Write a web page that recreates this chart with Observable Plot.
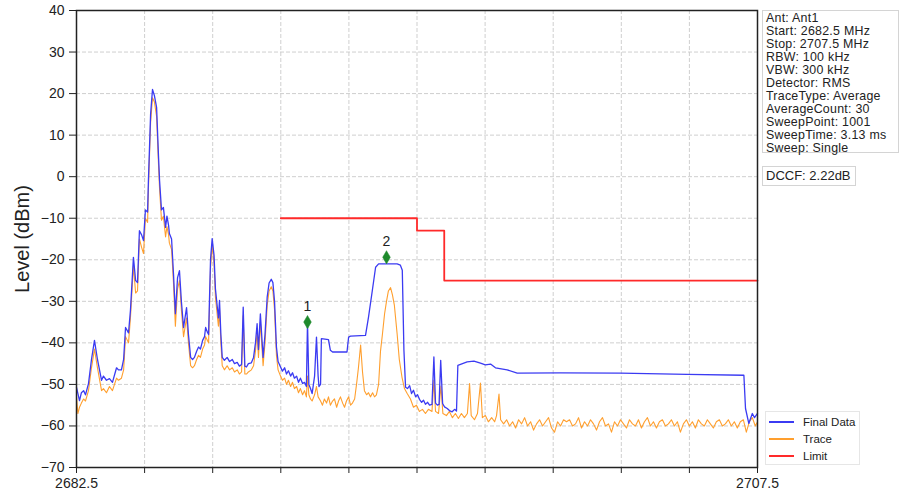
<!DOCTYPE html>
<html><head><meta charset="utf-8">
<script src="https://cdn.jsdelivr.net/npm/d3@7"></script>
<script src="https://cdn.jsdelivr.net/npm/@observablehq/plot@0.6"></script>
<style>
body{margin:0;background:#fff;font-family:"Liberation Sans",Arial,sans-serif;}
#wrap{position:relative;width:899px;height:500px;overflow:hidden;}
#chart svg{display:block;}
.info{position:absolute;left:762px;top:10px;width:137px;height:143px;border:1px solid #d4d4d4;background:#fff;font-size:12.4px;line-height:13px;color:#222;padding:1px 0 0 3px;box-sizing:border-box;white-space:nowrap;letter-spacing:0.25px;}
.info div{height:13px;overflow:visible;}
.dccf{position:absolute;left:762px;top:166px;border:1px solid #d4d4d4;background:#fff;font-size:13px;line-height:16px;color:#222;padding:1px 4px 1px 3px;white-space:nowrap;}
.legend{position:absolute;left:765px;top:411px;width:95px;height:54px;border:1px solid #e6e6e6;background:#fff;font-size:11.5px;color:#222;box-sizing:border-box;}
.legend .row{position:absolute;left:2px;height:14px;line-height:14px;white-space:nowrap;}
.legend .sw{position:absolute;left:0;top:6px;width:25px;height:1.6px;}
.legend .lbl{position:absolute;left:34px;top:0;}
.ylab{position:absolute;left:22px;top:239px;transform:translate(-50%,-50%) rotate(-90deg);font-size:20px;color:#222;white-space:nowrap;}
</style>
</head><body>
<div id="wrap">
<div id="chart"></div>
<div class="ylab">Level (dBm)</div>
<div class="info" id="info"></div>
<div class="dccf" id="dccf"></div>
<div class="legend" id="legend"></div>
</div>
<script>
// x ticks (MHz) and y ticks (dBm)
const xTicks = [2682.5, 2685, 2687.5, 2690, 2692.5, 2695, 2697.5, 2700, 2702.5, 2705, 2707.5];
const xLabelTicks = [2682.5, 2707.5];
const yTicks = [-70, -60, -50, -40, -30, -20, -10, 0, 10, 20, 30, 40];

// Final Data trace [MHz, dBm]
const finalData = [
[2682.50,-50.7],[2682.61,-53.9],[2682.68,-52],[2682.76,-51.5],[2682.83,-52.5],[2682.94,-49.8],[2683.05,-44],[2683.16,-39.4],
[2683.27,-44],[2683.42,-49],[2683.49,-48],[2683.60,-49],[2683.71,-48.6],[2683.82,-49.5],[2683.97,-46],[2684.04,-46.5],
[2684.15,-46.5],[2684.23,-44],[2684.30,-36.3],[2684.41,-37.6],[2684.48,-32.2],[2684.59,-19.4],[2684.67,-25],[2684.74,-25.5],
[2684.81,-13],[2684.89,-14],[2684.96,-15.4],[2685.03,-8],[2685.11,-8.5],[2685.14,-1],[2685.22,15],[2685.29,21],
[2685.36,19.5],[2685.44,16.7],[2685.51,5],[2685.55,-1],[2685.62,-8],[2685.69,-7.4],[2685.77,-12.2],[2685.82,-9.5],
[2685.88,-11.7],[2685.91,-13.7],[2685.99,-15],[2686.06,-23.3],[2686.13,-33],[2686.21,-24.3],[2686.28,-22.6],[2686.35,-30],
[2686.43,-36.3],[2686.54,-31.5],[2686.61,-38],[2686.69,-43.5],[2686.76,-44],[2686.83,-43.5],[2686.91,-42],[2686.98,-41],
[2687.05,-41.5],[2687.13,-39.4],[2687.20,-38.5],[2687.24,-36.3],[2687.31,-37.5],[2687.35,-38],[2687.38,-30],[2687.42,-20],
[2687.48,-14.9],[2687.55,-19],[2687.60,-27],[2687.67,-31.5],[2687.71,-34],[2687.75,-29.8],[2687.80,-38],[2687.85,-43.5],
[2687.93,-44.2],[2688.03,-43.5],[2688.12,-44.5],[2688.22,-44],[2688.30,-45],[2688.40,-44.7],[2688.48,-45.6],[2688.56,-45.2],
[2688.62,-31.4],[2688.68,-45.6],[2688.74,-45.8],[2688.81,-45],[2688.92,-44.8],[2689.00,-43.5],[2689.07,-40],[2689.13,-35.4],
[2689.18,-41.6],[2689.25,-33],[2689.35,-43.5],[2689.42,-38],[2689.50,-29],[2689.57,-25.6],[2689.65,-24.7],[2689.71,-25.5],
[2689.77,-30],[2689.84,-41],[2689.90,-44.5],[2689.99,-45.8],[2690.06,-46.8],[2690.14,-46],[2690.21,-47.5],[2690.28,-46.7],
[2690.36,-48],[2690.43,-47.2],[2690.50,-48.5],[2690.58,-48],[2690.65,-49.5],[2690.72,-48.5],[2690.80,-49.8],[2690.87,-49.5],
[2690.94,-50.5],[2690.98,-35],[2691.03,-50],[2691.09,-51],[2691.15,-52.2],[2691.24,-48],[2691.31,-38.6],[2691.37,-48],
[2691.40,-50.5],[2691.46,-50],[2691.49,-39],[2691.75,-39.2],[2691.82,-41.8],[2691.90,-42.2],[2692.43,-42.2],[2692.49,-38.6],
[2692.56,-38.4],[2693.11,-38.2],[2693.22,-33.8],[2693.36,-27.4],[2693.48,-21.8],[2693.59,-21],[2694.27,-21],[2694.39,-21.3],
[2694.46,-22.5],[2694.52,-41.8],[2694.58,-50.7],[2694.65,-51],[2694.73,-50.3],[2694.80,-52.2],[2694.87,-51.4],[2694.95,-53],
[2695.02,-52.5],[2695.09,-53.6],[2695.17,-54.3],[2695.24,-53.8],[2695.31,-54.8],[2695.39,-54.3],[2695.46,-55],[2695.55,-54.8],
[2695.62,-43.4],[2695.68,-54.5],[2695.75,-55],[2695.81,-54.8],[2695.87,-44.2],[2695.94,-54.6],[2696.01,-55.4],[2696.11,-55.8],
[2696.19,-56.3],[2696.29,-56.6],[2696.38,-56],[2696.45,-56.4],[2696.50,-45.4],[2696.84,-44.6],[2697.09,-44.4],[2697.33,-44.9],
[2697.51,-45.3],[2697.70,-45.1],[2697.88,-46],[2698.31,-46.5],[2698.68,-47.3],[2700.27,-47.2],[2702.47,-47.3],[2704.92,-47.6],
[2707.00,-47.8],[2707.06,-55.8],[2707.18,-59.4],[2707.31,-57],[2707.39,-58],[2707.50,-57]
];

// Trace [MHz, dBm]
const traceData = [
[2682.50,-53],[2682.55,-57],[2682.61,-55.5],[2682.68,-54.5],[2682.76,-53.5],[2682.83,-54],[2682.94,-51.5],[2683.05,-46],
[2683.16,-41.5],[2683.27,-46],[2683.42,-51.5],[2683.49,-51],[2683.60,-52],[2683.71,-50.5],[2683.82,-51.5],[2683.97,-48.5],
[2684.04,-49],[2684.15,-48.5],[2684.23,-46.5],[2684.30,-38.5],[2684.41,-40],[2684.48,-34],[2684.59,-21.5],[2684.67,-28],
[2684.74,-27.5],[2684.81,-15],[2684.89,-17],[2684.96,-18.5],[2685.03,-10],[2685.11,-11],[2685.14,-3],[2685.22,13],
[2685.29,19],[2685.36,18],[2685.44,14.5],[2685.51,3],[2685.55,-3],[2685.62,-10.5],[2685.69,-9.5],[2685.77,-14.5],
[2685.82,-12],[2685.88,-14],[2685.91,-16],[2685.99,-17.5],[2686.06,-25.5],[2686.13,-36],[2686.21,-27],[2686.28,-25],
[2686.35,-32],[2686.43,-38.5],[2686.54,-34],[2686.61,-40],[2686.69,-45.5],[2686.76,-46],[2686.83,-45.5],[2686.91,-44],
[2686.98,-43],[2687.05,-43.5],[2687.13,-41.5],[2687.20,-40.5],[2687.24,-38.5],[2687.31,-39.5],[2687.35,-40],[2687.38,-32],
[2687.42,-22],[2687.48,-16.5],[2687.55,-21],[2687.60,-29],[2687.67,-33.5],[2687.71,-36],[2687.75,-32],[2687.80,-40],
[2687.85,-45.5],[2687.93,-46.5],[2688.03,-45.5],[2688.12,-46.5],[2688.22,-46],[2688.30,-47],[2688.40,-46.5],[2688.48,-47.5],
[2688.56,-47],[2688.62,-33.5],[2688.68,-47.5],[2688.74,-47.5],[2688.81,-47],[2688.92,-46.5],[2689.00,-45.5],[2689.07,-42],
[2689.13,-37.5],[2689.18,-43.5],[2689.25,-35],[2689.35,-45.5],[2689.42,-40],[2689.50,-31],[2689.57,-27.5],[2689.65,-26.5],
[2689.71,-27.5],[2689.77,-32],[2689.84,-43],[2689.90,-46.5],[2689.99,-48],[2690.06,-49],[2690.14,-48.5],[2690.21,-50],
[2690.28,-49],[2690.36,-50.5],[2690.43,-49.5],[2690.50,-51],[2690.58,-50.5],[2690.65,-52],[2690.72,-51],[2690.80,-52.5],
[2690.87,-51.5],[2690.94,-53],[2690.98,-48],[2691.03,-52.5],[2691.09,-53.5],[2691.15,-54],[2691.24,-52.5],[2691.31,-50.5],
[2691.37,-53],[2691.46,-54],[2691.53,-55],[2691.60,-53.5],[2691.68,-54.5],[2691.75,-53],[2691.82,-55],[2691.90,-54],
[2691.97,-53.5],[2692.05,-55.5],[2692.12,-54],[2692.19,-53],[2692.27,-54.5],[2692.34,-55.5],[2692.41,-54],[2692.49,-53],
[2692.56,-55],[2692.63,-54.5],[2692.71,-53.5],[2692.78,-50],[2692.85,-46],[2692.93,-40.5],[2693.00,-47],[2693.07,-51.5],
[2693.15,-52.5],[2693.22,-52],[2693.29,-53],[2693.37,-52],[2693.44,-53],[2693.51,-52.5],[2693.59,-50],[2693.66,-42],
[2693.73,-38],[2693.81,-33],[2693.88,-30],[2693.95,-27.5],[2694.03,-26.7],[2694.10,-28.5],[2694.17,-31],[2694.27,-37.8],
[2694.35,-44],[2694.45,-48.3],[2694.54,-51],[2694.64,-52.2],[2694.76,-53.5],[2694.87,-55.5],[2694.98,-55],[2695.09,-56.5],
[2695.20,-56],[2695.31,-57],[2695.42,-56],[2695.55,-56.5],[2695.62,-49],[2695.68,-56.5],[2695.79,-57],[2695.88,-50.4],
[2695.95,-57],[2696.08,-57.5],[2696.19,-56.5],[2696.30,-58],[2696.41,-57],[2696.52,-58.2],[2696.63,-57],[2696.74,-58],
[2696.85,-57],[2696.93,-49.8],[2696.99,-57.5],[2697.11,-58.5],[2697.22,-57],[2697.33,-49.7],[2697.40,-58],[2697.51,-57.5],
[2697.62,-59],[2697.74,-58],[2697.85,-59],[2697.92,-57.5],[2698.01,-52.3],[2698.07,-58.5],[2698.18,-59.5],[2698.29,-58.5],
[2698.40,-60],[2698.51,-59],[2698.62,-60.5],[2698.73,-58.5],[2698.84,-59.5],[2698.95,-58],[2699.06,-60],[2699.17,-59],
[2699.28,-61],[2699.39,-59.5],[2699.50,-58.5],[2699.61,-60],[2699.72,-59],[2699.83,-58],[2699.94,-60.5],[2700.05,-61.5],
[2700.16,-59],[2700.27,-60],[2700.38,-58.5],[2700.49,-59],[2700.60,-58.5],[2700.71,-60],[2700.82,-59.5],[2700.93,-58],
[2701.04,-60.5],[2701.15,-59],[2701.26,-60],[2701.37,-58.5],[2701.48,-59.5],[2701.59,-61],[2701.70,-59],[2701.81,-58],
[2701.92,-60],[2702.03,-59.5],[2702.14,-61.5],[2702.25,-59],[2702.36,-60],[2702.47,-58.5],[2702.58,-59.5],[2702.69,-60.5],
[2702.80,-58.5],[2702.91,-59.5],[2703.02,-60],[2703.13,-58.5],[2703.24,-60.5],[2703.35,-59],[2703.46,-58],[2703.57,-60],
[2703.68,-59],[2703.79,-60.5],[2703.90,-59],[2704.01,-58.5],[2704.12,-60],[2704.23,-59.5],[2704.34,-58.5],[2704.45,-60],
[2704.56,-59],[2704.67,-61.5],[2704.78,-59.5],[2704.89,-58.5],[2705.00,-60],[2705.11,-59],[2705.22,-60.5],[2705.33,-58.5],
[2705.44,-59.5],[2705.55,-60],[2705.66,-58.5],[2705.77,-59.5],[2705.88,-60.5],[2705.99,-59],[2706.10,-58.5],[2706.21,-60],
[2706.32,-59.5],[2706.43,-58.5],[2706.54,-60],[2706.65,-59],[2706.76,-60.5],[2706.87,-59],[2706.98,-58.5],[2707.09,-61.5],
[2707.20,-59],[2707.31,-58],[2707.42,-60],[2707.50,-59]
];

// Limit line [MHz, dBm]
const limitData = [[2690, -10], [2695, -10], [2695, -13], [2696, -13], [2696, -25], [2707.5, -25]];

// Markers
const markerLabels = ["1", "2"];
const markerFreq = [2690.98, 2693.88];
const markerLevel = [-35, -19.4];

const infoLines = ["Ant: Ant1", "Start: 2682.5 MHz", "Stop: 2707.5 MHz", "RBW: 100 kHz", "VBW: 300 kHz",
  "Detector: RMS", "TraceType: Average", "AverageCount: 30", "SweepPoint: 1001", "SweepTime: 3.13 ms", "Sweep: Single"];
const dccfText = "DCCF: 2.22dB";
const seriesNames = ["Final Data", "Trace", "Limit"];
const seriesColors = ["#3b3bf2", "#ff9f2e", "#ff2a2a"];

const toRows = arr => arr.map(([f, v]) => ({f, v}));
const markers = markerLabels.map((label, i) => ({label, f: markerFreq[i], v: markerLevel[i]}));

const chart = Plot.plot({
  width: 899, height: 500,
  marginLeft: 76, marginRight: 142, marginTop: 10, marginBottom: 33,
  x: {domain: [2682.5, 2707.5]},
  y: {domain: [-70, 40]},
  style: {fontFamily: '"Liberation Sans", Arial, sans-serif', fontSize: "14px", color: "#222", background: "transparent"},
  marks: [
    Plot.gridX(xTicks, {stroke: "#cfcfcf", strokeOpacity: 1, strokeDasharray: "4,2"}),
    Plot.gridY(yTicks, {stroke: "#cfcfcf", strokeOpacity: 1, strokeDasharray: "4,2"}),
    Plot.line(toRows(traceData), {x: "f", y: "v", stroke: seriesColors[1], strokeWidth: 1.1}),
    Plot.line(toRows(finalData), {x: "f", y: "v", stroke: seriesColors[0], strokeWidth: 1.3}),
    Plot.line(toRows(limitData), {x: "f", y: "v", stroke: seriesColors[2], strokeWidth: 1.8}),
    Plot.dot(markers, {x: "f", y: "v", symbol: "diamond", r: 4, fill: "#1e8a2c", stroke: "#1e8a2c", strokeWidth: 0.5}),
    Plot.text(markers, {x: "f", y: "v", text: "label", dy: -16, fontSize: 14, fill: "#222"}),
    Plot.axisX(xTicks, {tickSize: 6, tickPadding: 5, label: null,
      tickFormat: d => xLabelTicks.includes(d) ? d.toFixed(1) : ""}),
    Plot.axisY(yTicks, {tickSize: 7, tickPadding: 5, label: null}),
    Plot.frame({stroke: "#222", strokeWidth: 1.5})
  ]
});
document.getElementById("chart").appendChild(chart);

document.getElementById("info").innerHTML = infoLines.map(t => `<div>${t}</div>`).join("");
document.getElementById("dccf").textContent = dccfText;
document.getElementById("legend").innerHTML = seriesNames.map((n, i) =>
  `<div class="row" style="top:${3 + i * 17}px;left:3px;width:90px"><span class="sw" style="background:${seriesColors[i]}"></span><span class="lbl">${n}</span></div>`).join("");
</script>
</body></html>
